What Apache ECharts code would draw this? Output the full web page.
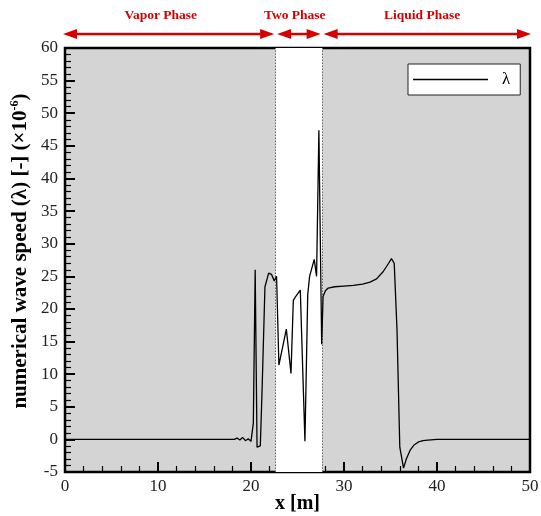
<!DOCTYPE html>
<html>
<head>
<meta charset="utf-8">
<script src="https://cdn.jsdelivr.net/npm/echarts@6/dist/echarts.min.js"></script>
<style>
    html, body { margin: 0; padding: 0; background: #fff; }
    #chart { width: 541px; height: 516px; }
</style>
</head>
<body>
<div id="chart"></div>
<script>
// 位置 x [m]
var xs = [0, 18.2, 18.5, 18.8, 19.1, 19.4, 19.7, 20.0, 20.25, 20.45, 20.65, 21.0, 21.2, 21.5, 21.9, 22.2, 22.5, 22.75,
    23.0, 23.8, 24.3, 24.55, 24.8, 25.3, 25.8, 26.1, 26.3, 26.8, 27.05, 27.3, 27.6, 27.75, 28.0, 28.3, 29.0,
    30, 31, 32, 32.8, 33.5, 34.2, 34.8, 35.1, 35.4, 35.7, 36.0, 36.4, 36.7, 37.1, 37.5, 38, 38.5, 39, 40, 42, 50];
// 数值波速 λ (×10^-6)
var ys = [0, 0, 0.2, -0.1, 0.3, -0.2, 0.1, -0.3, 2.5, 26, -1.2, -1.0, 8, 23.4, 25.5, 25.3, 24.3, 25,
    11.4, 16.9, 10.1, 21.3, 21.9, 22.9, -0.3, 22.2, 25, 27.6, 25, 47.4, 14.6, 21.9, 22.8, 23.2, 23.4,
    23.5, 23.6, 23.8, 24.1, 24.6, 25.7, 27, 27.7, 27, 16.8, -1.2, -4.4, -3, -1.7, -0.9, -0.4, -0.2, -0.1, 0, 0, 0];
// 两相区边界
var phaseBounds = [22.65, 27.65];
// 顶部标注
var phaseNames = ['Vapor Phase', 'Two Phase', 'Liquid Phase'];
var phaseLabelX = [10.3, 24.7, 38.4];

var serif = '"Liberation Serif", "DejaVu Serif", serif';
var red = '#d40000';

var myChart = echarts.init(document.getElementById('chart'));

var points = [];
for (var i = 0; i < xs.length; i++) {
    points.push([xs[i], ys[i]]);
}

var option = {
    animation: false,
    grid: {
        left: 65, right: 11, top: 48, bottom: 44,
        outerBoundsMode: 'none',
        containLabel: false,
        show: true,
        backgroundColor: '#d4d4d4',
        borderColor: '#000',
        borderWidth: 2.5
    },
    legend: {
        data: ['λ'],
        left: 408, top: 64,
        backgroundColor: '#fff',
        borderColor: '#222',
        borderWidth: 1,
        padding: [7, 10, 7, 5],
        itemWidth: 75,
        itemHeight: 1.5,
        icon: 'rect',
        itemStyle: { color: '#000' },
        textStyle: { fontFamily: serif, fontSize: 17, color: '#000', padding: [0, 0, 0, 9] }
    },
    xAxis: {
        type: 'value',
        min: 0, max: 50, interval: 10,
        name: 'x [m]',
        nameLocation: 'middle',
        nameMoveOverlap: false,
        nameGap: 22,
        nameTextStyle: { fontFamily: serif, fontSize: 20, fontWeight: 'bold', color: '#000' },
        axisLine: { show: false, onZero: false },
        axisTick: { show: true, inside: true, length: 10, lineStyle: { color: '#000', width: 2 } },
        minorTick: { show: true, splitNumber: 5, length: 6, lineStyle: { color: '#000', width: 1.2 } },
        splitLine: { show: false },
        axisLabel: { fontFamily: serif, fontSize: 17, color: '#222', margin: 6 }
    },
    yAxis: {
        type: 'value',
        min: -5, max: 60, interval: 5,
        name: '{a|numerical wave speed (λ) [-] (×10}{s|-6}{a|)}',
        nameLocation: 'middle',
        nameMoveOverlap: false,
        nameGap: 32,
        nameTextStyle: {
            padding: [0, 0, 0, 18],
            rich: {
                a: { fontFamily: serif, fontSize: 21, fontWeight: 'bold', color: '#000', lineHeight: 24 },
                s: { fontFamily: serif, fontSize: 12, fontWeight: 'bold', color: '#000', verticalAlign: 'top', lineHeight: 24 }
            }
        },
        axisLine: { show: false, onZero: false },
        axisTick: { show: true, inside: true, length: 10, lineStyle: { color: '#000', width: 2 } },
        minorTick: { show: true, splitNumber: 5, length: 6, lineStyle: { color: '#000', width: 1.2 } },
        splitLine: { show: false },
        axisLabel: { fontFamily: serif, fontSize: 17, color: '#222', margin: 7 }
    },
    series: [
        {
            name: 'λ',
            type: 'line',
            data: points,
            showSymbol: false,
            symbol: 'none',
            lineStyle: { color: '#000', width: 1.3 },
            itemStyle: { color: '#000' },
            z: 5,
            markArea: {
                silent: true,
                itemStyle: { color: '#fff' },
                data: [[{ xAxis: phaseBounds[0] }, { xAxis: phaseBounds[1] }]]
            },
            markLine: {
                silent: true,
                symbol: 'none',
                label: { show: false },
                lineStyle: { color: '#666', type: [1.5, 1.5], width: 1 },
                data: [{ xAxis: phaseBounds[0] }, { xAxis: phaseBounds[1] }]
            }
        }
    ]
};
myChart.setOption(option);

// 绘制顶部双向箭头和相区文字
function DrawPhaseArrows() {
    var ay = 34;
    var edges = [0, phaseBounds[0], phaseBounds[1], 50];
    var gfx = [];
    for (var k = 0; k < 3; k++) {
        var x1 = myChart.convertToPixel({ gridIndex: 0 }, [edges[k], 0])[0] + (k == 0 ? -2 : 1.5);
        var x2 = myChart.convertToPixel({ gridIndex: 0 }, [edges[k + 1], 0])[0] + (k == 2 ? 1 : -1.5);
        gfx.push({
            type: 'line',
            shape: { x1: x1 + 8, y1: ay, x2: x2 - 8, y2: ay },
            style: { stroke: red, lineWidth: 2.5 }
        });
        gfx.push({
            type: 'polygon',
            shape: { points: [[x1, ay], [x1 + 14, ay - 5], [x1 + 14, ay + 5]] },
            style: { fill: red }
        });
        gfx.push({
            type: 'polygon',
            shape: { points: [[x2, ay], [x2 - 14, ay - 5], [x2 - 14, ay + 5]] },
            style: { fill: red }
        });
        var tx = myChart.convertToPixel({ gridIndex: 0 }, [phaseLabelX[k], 0])[0];
        gfx.push({
            type: 'text',
            x: tx, y: 16,
            style: {
                text: phaseNames[k],
                fill: red,
                font: 'bold 13.5px ' + serif,
                align: 'center',
                verticalAlign: 'middle'
            }
        });
    }
    myChart.setOption({ graphic: gfx });
}
DrawPhaseArrows();
</script>
</body>
</html>
